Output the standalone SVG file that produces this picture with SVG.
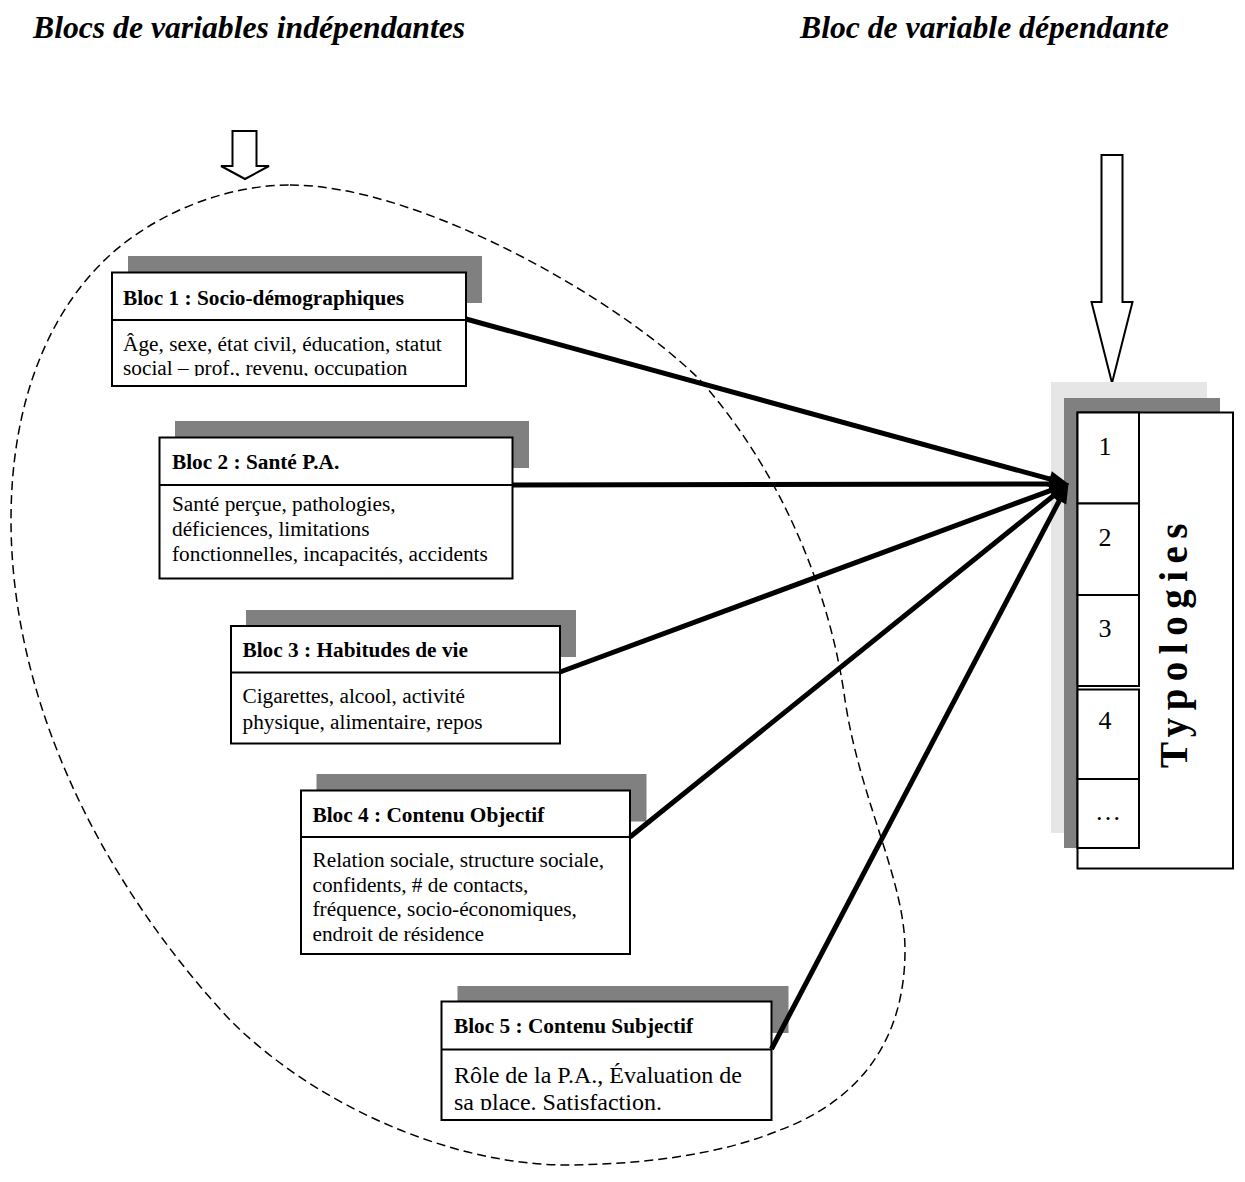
<svg xmlns="http://www.w3.org/2000/svg" width="1245" height="1182" viewBox="0 0 1245 1182">
  <style>
    .hdr { font-family: "Liberation Serif", "Times New Roman", serif; font-size: 31.7px; font-weight: bold; font-style: italic; fill: #000; }
    .ttl { font-family: "Liberation Serif", "Times New Roman", serif; font-size: 21.3px; font-weight: bold; fill: #000; }
    .txt { font-family: "Liberation Serif", "Times New Roman", serif; font-size: 21.3px; fill: #000; }
    .txt-lg { font-family: "Liberation Serif", "Times New Roman", serif; font-size: 24px; fill: #000; }
    .num { font-family: "Liberation Serif", "Times New Roman", serif; font-size: 26px; fill: #000; text-anchor: middle; }
    .typo { font-family: "Liberation Serif", "Times New Roman", serif; font-size: 39px; font-weight: bold; letter-spacing: 7.5px; fill: #000; text-anchor: middle; }
    .box { fill: #fff; stroke: #000; stroke-width: 2; }
    .shadow { fill: #808080; }
    .rule { stroke: #000; stroke-width: 2; }
    .hollow { fill: #fff; stroke: #000; stroke-width: 2; stroke-linejoin: miter; }
    .zone { fill: none; stroke: #000; stroke-width: 1.5; stroke-dasharray: 9 5; }
    .conn { fill: none; stroke: #000; stroke-width: 5; marker-end: url(#head); }
  </style>
  <defs>
    <marker id="head" viewBox="-12 -9 22 18" refX="0" refY="0" markerWidth="22" markerHeight="18" markerUnits="userSpaceOnUse" orient="auto">
      <path d="M-11,-8 L9,0 L-11,8 z" fill="#000"/>
    </marker>
    <clipPath id="clip1"><rect x="112" y="322" width="354" height="54"/></clipPath>
    <clipPath id="clip5"><rect x="442" y="1051" width="330" height="59"/></clipPath>
  </defs>

  <rect width="1245" height="1182" fill="#fff"/>

  <!-- column headings -->
  <text class="hdr" x="33" y="38">Blocs de variables indépendantes</text>
  <text class="hdr" x="800" y="38">Bloc de variable dépendante</text>

  <!-- dashed grouping outline around the independent blocks -->
  <path class="zone" d="M290,185 C420,185 620,300 700,380 C780,470 830,590 845,700 C860,800 905,880 905,950 C905,1040 860,1100 780,1130 C720,1155 640,1165 560,1165 C440,1162 310,1100 230,1020 C100,880 11,700 11,520 C11,400 50,310 110,255 C160,210 230,185 290,185 Z"/>

  <!-- hollow input arrows -->
  <polygon class="hollow" points="232.5,131 256.5,131 256.5,166 269,166 245,179 221,166 232.5,166"/>
  <polygon class="hollow" points="1101.5,155 1122.5,155 1122.5,302 1132.5,302 1112,383 1091.5,302 1101.5,302"/>

  <!-- Bloc 1 -->
  <g id="bloc1">
    <rect class="shadow" x="128" y="256" width="354" height="47"/>
    <rect class="box" x="112" y="272.5" width="354" height="113.5"/>
    <line class="rule" x1="112" y1="320" x2="466" y2="320"/>
    <text class="ttl" x="123" y="305">Bloc 1 : Socio-démographiques</text>
    <g clip-path="url(#clip1)">
      <text class="txt" x="123" y="351">Âge, sexe, état civil, éducation, statut</text>
      <text class="txt" x="123" y="374.5">social – prof., revenu, occupation</text>
    </g>
  </g>

  <!-- Bloc 2 -->
  <g id="bloc2">
    <rect class="shadow" x="175" y="421" width="354" height="47"/>
    <rect class="box" x="159.5" y="437.5" width="353" height="141"/>
    <line class="rule" x1="159.5" y1="485" x2="512.5" y2="485"/>
    <text class="ttl" x="172" y="469">Bloc 2 : Santé P.A.</text>
    <text class="txt" x="172" y="511">Santé perçue, pathologies,</text>
    <text class="txt" x="172" y="536">déficiences, limitations</text>
    <text class="txt" x="172" y="561">fonctionnelles, incapacités, accidents</text>
  </g>

  <!-- Bloc 3 -->
  <g id="bloc3">
    <rect class="shadow" x="246" y="610" width="330" height="47"/>
    <rect class="box" x="231" y="626" width="329" height="117.5"/>
    <line class="rule" x1="231" y1="672.5" x2="560" y2="672.5"/>
    <text class="ttl" x="242.5" y="656.5">Bloc 3 : Habitudes de vie</text>
    <text class="txt" x="242.5" y="703">Cigarettes, alcool, activité</text>
    <text class="txt" x="242.5" y="729">physique, alimentaire, repos</text>
  </g>

  <!-- Bloc 4 -->
  <g id="bloc4">
    <rect class="shadow" x="316.5" y="774" width="330" height="47.5"/>
    <rect class="box" x="301" y="790.5" width="329" height="163.5"/>
    <line class="rule" x1="301" y1="837" x2="630" y2="837"/>
    <text class="ttl" x="312.5" y="821.5">Bloc 4 : Contenu Objectif</text>
    <text class="txt" x="312.5" y="867">Relation sociale, structure sociale,</text>
    <text class="txt" x="312.5" y="891.5">confidents, # de contacts,</text>
    <text class="txt" x="312.5" y="916">fréquence, socio-économiques,</text>
    <text class="txt" x="312.5" y="940.5">endroit de résidence</text>
  </g>

  <!-- Bloc 5 -->
  <g id="bloc5">
    <rect class="shadow" x="457.5" y="986" width="331" height="47"/>
    <rect class="box" x="441.5" y="1001.5" width="330" height="118.5"/>
    <line class="rule" x1="441.5" y1="1049.5" x2="771.5" y2="1049.5"/>
    <text class="ttl" x="454" y="1033">Bloc 5 : Contenu Subjectif</text>
    <g clip-path="url(#clip5)">
      <text class="txt-lg" x="454" y="1083">Rôle de la P.A., Évaluation de</text>
      <text class="txt-lg" x="454" y="1110">sa place. Satisfaction.</text>
    </g>
  </g>

  <!-- Typologies (dependent block) -->
  <g id="typologies">
    <rect x="1051" y="382" width="156" height="451" fill="#e6e6e6"/>
    <rect x="1064" y="398" width="156" height="450" fill="#808080"/>
    <rect class="box" x="1077.5" y="412.5" width="155.5" height="456"/>
    <rect class="box" x="1077.5" y="412.5" width="61.5" height="91"/>
    <rect class="box" x="1077.5" y="503.5" width="61.5" height="91.5"/>
    <rect class="box" x="1077.5" y="595" width="61.5" height="91"/>
    <rect class="box" x="1077.5" y="689.5" width="61.5" height="89.5"/>
    <rect class="box" x="1077.5" y="779" width="61.5" height="69"/>
    <text class="num" x="1105" y="455">1</text>
    <text class="num" x="1105" y="546">2</text>
    <text class="num" x="1105" y="637">3</text>
    <text class="num" x="1105" y="729">4</text>
    <text class="num" x="1108" y="820">…</text>
    <text class="typo" transform="translate(1187,642) rotate(-90)">Typologies</text>
  </g>

  <!-- connectors from each block to the typologies -->
  <g id="connectors">
    <line class="conn" x1="466" y1="319" x2="1060.3" y2="481.9"/>
    <line class="conn" x1="512.5" y1="485" x2="1060" y2="484"/>
    <line class="conn" x1="560" y1="672" x2="1060.5" y2="486.8"/>
    <line class="conn" x1="630" y1="837" x2="1061.8" y2="489"/>
    <line class="conn" x1="771.5" y1="1049" x2="1064.3" y2="491.1"/>
  </g>
</svg>
